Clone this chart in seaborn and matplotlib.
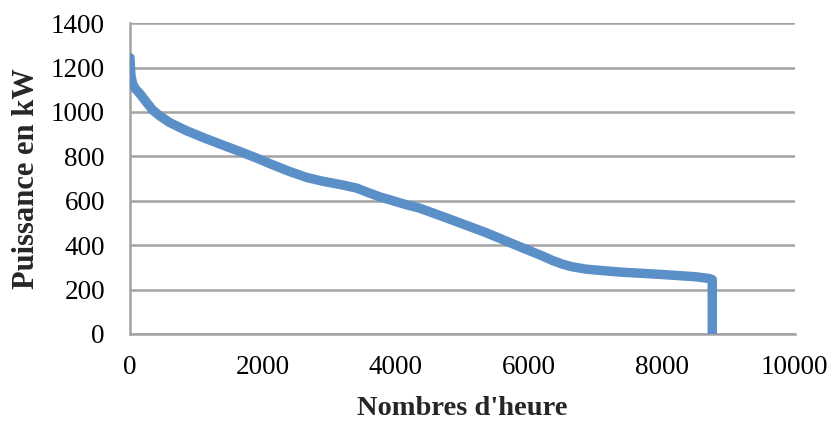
import matplotlib
matplotlib.use("Agg")
import matplotlib.pyplot as plt
import seaborn as sns
import pandas as pd

hours = [0, 15, 40, 80, 150, 250, 345, 450, 600, 855, 1100, 1350, 1652, 1900,
         2147, 2400, 2658, 2900, 3200, 3410, 3600, 3755, 4160, 4356, 4850,
         5360, 5856, 6200, 6350, 6500, 6650, 6860, 7360, 8000, 8500, 8710,
         8760, 8760]
power = [1245, 1165, 1128, 1105, 1082, 1043, 1008, 982, 952, 915, 885, 856,
         822, 793, 762, 732, 705, 688, 671, 657, 635, 618, 582, 567, 513,
         456, 394, 352, 332, 315, 303, 292, 279, 268, 258, 250,
         245, 0]

x_ticks = [0, 2000, 4000, 6000, 8000, 10000]
y_ticks = [0, 200, 400, 600, 800, 1000, 1200, 1400]

df = pd.DataFrame({"Nombres d'heure": hours, "Puissance en kW": power})

sns.set_style("white")
plt.rcParams['font.family'] = ['Liberation Serif', 'DejaVu Serif']

fig = plt.figure(figsize=(8.33, 4.21), dpi=100)
ax = fig.add_axes([0.156, 0.2067, 0.798, 0.7383])

sns.lineplot(data=df, x="Nombres d'heure", y="Puissance en kW", ax=ax,
             sort=False, estimator=None, color="#5B8FC8", linewidth=6.8,
             solid_capstyle="round", solid_joinstyle="round", zorder=3)

ax.set_xlim(0, 10000)
ax.set_ylim(0, 1400)
ax.set_xticks(x_ticks)
ax.set_yticks(y_ticks)
ax.set_xticklabels([str(v) for v in x_ticks])
ax.set_yticklabels([str(v) for v in y_ticks])

ax.yaxis.grid(True, color="#A3A3A3", linewidth=1.8)
ax.xaxis.grid(False)
ax.set_axisbelow(True)

for s in ["top", "right"]:
    ax.spines[s].set_visible(False)
for s in ["left", "bottom"]:
    ax.spines[s].set_color("#A3A3A3")
    ax.spines[s].set_linewidth(1.8)

ax.tick_params(axis="both", which="major", direction="out", length=6, width=1.6,
               color="#A3A3A3", labelsize=19.5, labelcolor="black")
ax.tick_params(axis="x", pad=9)
ax.tick_params(axis="y", pad=12)

ax.set_xlabel("Nombres d'heure", fontsize=20.5, fontweight="bold")
ax.set_ylabel("Puissance en kW", fontsize=22, fontweight="bold")
ax.xaxis.label.set_va("baseline")
ax.xaxis.set_label_coords(0.5, -0.262)
ax.yaxis.set_label_coords(-0.134, 0.5)

fig.savefig("out.png", dpi=100)
